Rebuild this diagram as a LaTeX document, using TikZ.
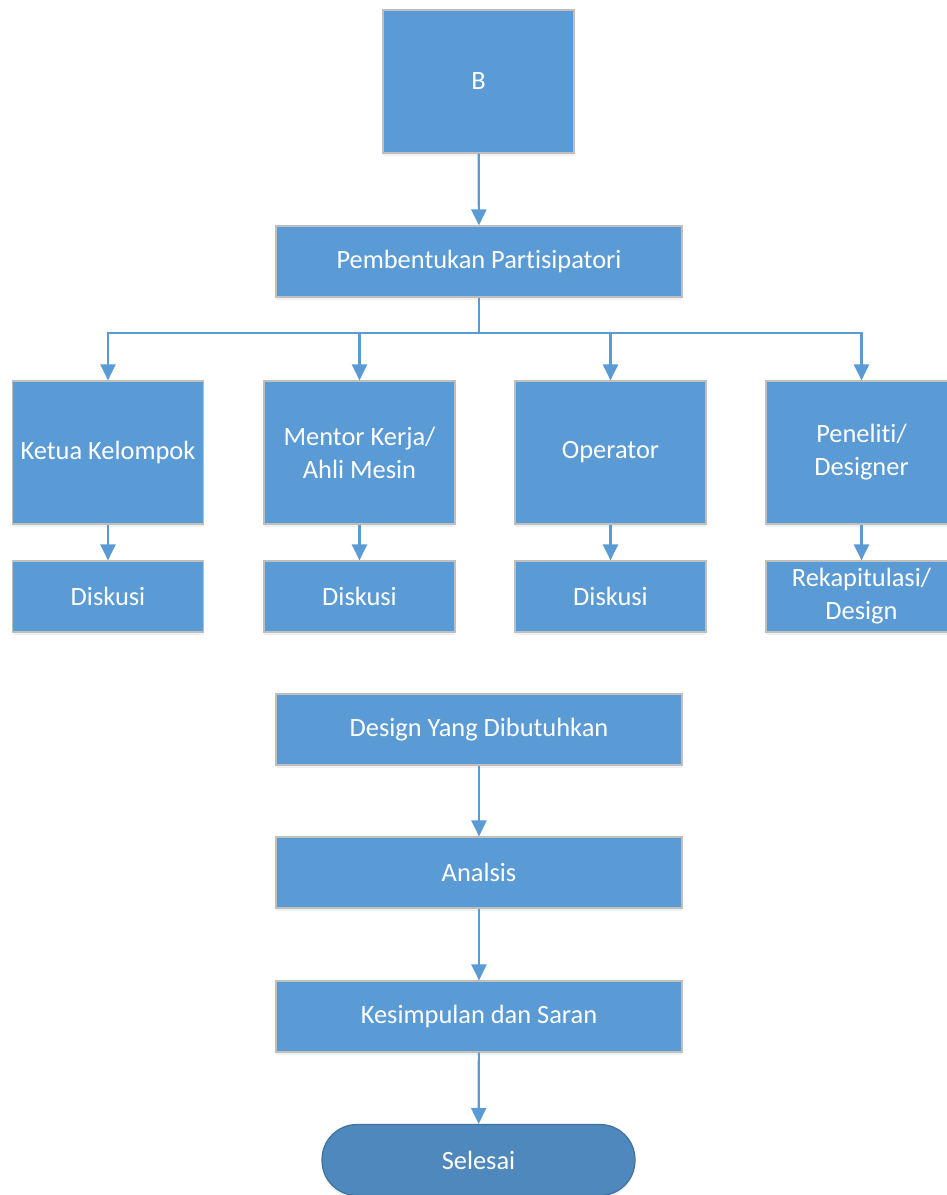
\documentclass[tikz,border=0pt]{standalone}
\usepackage{fontspec}
\setmainfont{Carlito}[Ligatures={NoCommon}]
\usetikzlibrary{arrows.meta,shadows,positioning}
\definecolor{boxblue}{HTML}{5B9BD5}
\definecolor{boxedge}{HTML}{BFBFBF}
\definecolor{termblue}{HTML}{4F88BC}
\definecolor{termedge}{HTML}{41719C}
\tikzset{
  pbox/.style={rectangle, fill=boxblue, draw=boxedge, line width=1.2pt, text=white,
    align=center, inner sep=0pt, font=\fontsize{26.4}{33}\selectfont,
    drop shadow={opacity=0.12, shadow xshift=0pt, shadow yshift=-3pt}},
  tallbox/.style={pbox, minimum width=191pt, minimum height=143pt},
  smallbox/.style={pbox, minimum width=191pt, minimum height=71pt},
  widebox/.style={pbox, minimum width=406pt, minimum height=71pt},
  termbox/.style={rectangle, rounded corners=35pt, fill=termblue, draw=termedge, line width=1.2pt,
    text=white, align=center, font=\fontsize{26.4}{33}\selectfont, minimum width=313pt, minimum height=71pt,
    drop shadow={opacity=0.12, shadow xshift=0pt, shadow yshift=-3pt}},
  conn/.style={draw=boxblue, line width=2.2pt, -{Triangle[width=15pt,length=16pt]}},
  line/.style={draw=boxblue, line width=2.2pt}
}
\begin{document}
\begin{tikzpicture}[x=1pt,y=-1pt]
\useasboundingbox (0,0) rectangle (946,1195);
\node[pbox, minimum width=191pt, minimum height=143pt] (b) at (478.5,81.5) {B};
\node[widebox] (pem) at (479,261.5) {Pembentukan Partisipatori};
\node[tallbox] (ket) at (108,452.5) {Ketua Kelompok};
\node[tallbox] (men) at (359.5,452.5) {Mentor Kerja/\\Ahli Mesin};
\node[tallbox] (ope) at (610.5,452.5) {Operator};
\node[tallbox] (pen) at (861.5,452.5) {Peneliti/\\Designer};
\node[smallbox] (d1) at (108,596.5) {Diskusi};
\node[smallbox] (d2) at (359.5,596.5) {Diskusi};
\node[smallbox] (d3) at (610.5,596.5) {Diskusi};
\node[smallbox] (rek) at (861.5,596.5) {Rekapitulasi/\\Design};
\node[widebox] (des) at (479,729.5) {Design Yang Dibutuhkan};
\node[widebox] (ana) at (479,872.5) {Analsis};
\node[widebox] (kes) at (479,1016.5) {Kesimpulan dan Saran};
\node[termbox] (sel) at (478.5,1160) {Selesai};
\coordinate (hub) at (479,333);
\draw[conn] (b) -- (pem);
\draw[line] (pem.south) -- (hub);
\draw[conn] (hub) -| (ket.north);
\draw[conn] (hub) -| (men.north);
\draw[conn] (hub) -| (ope.north);
\draw[conn] (hub) -| (pen.north);
\draw[conn] (ket) -- (d1);
\draw[conn] (men) -- (d2);
\draw[conn] (ope) -- (d3);
\draw[conn] (pen) -- (rek);
\draw[conn] (des) -- (ana);
\draw[conn] (ana) -- (kes);
\draw[conn] (kes) -- (sel);
\end{tikzpicture}
\end{document}
